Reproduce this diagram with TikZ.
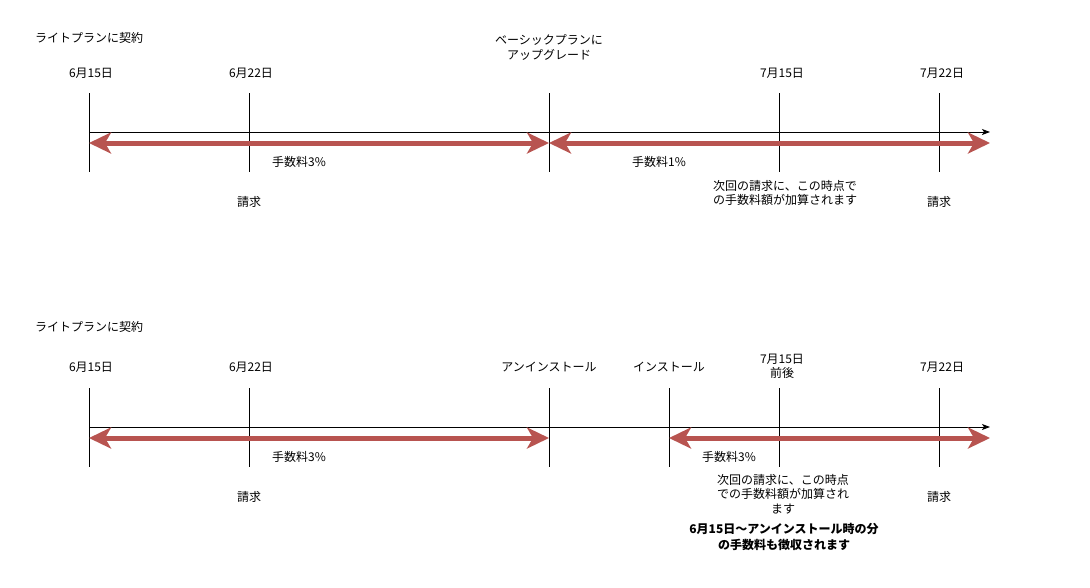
\documentclass[tikz,border=0pt]{standalone}
\usepackage{fontspec}
\setmainfont{Noto Sans CJK JP}
\usetikzlibrary{arrows.meta}
\definecolor{feered}{RGB}{184,84,80}
\begin{document}
\begin{tikzpicture}[x=1pt,y=-1pt,
  lbl/.style={font=\fontsize{12}{14.5}\selectfont, inner sep=0pt, align=center},
  boldlbl/.style={lbl, font=\fontsize{12}{16}\selectfont\bfseries},
  tick/.style={draw=black, line width=1pt},
  axis/.style={draw=black, line width=1pt, -{Stealth[length=8pt,width=6pt,inset=2pt]}},
  fee/.style={draw=feered, line width=5pt, {Stealth[length=22pt,width=21pt,inset=6pt]}-{Stealth[length=22pt,width=21pt,inset=6pt]}}]
\useasboundingbox (0,0) rectangle (1090,587);

% ---------- top timeline ----------
\node[lbl, anchor=west] (ttitle) at (35,38) {ライトプランに契約};
\node[lbl] (td1) at (91,73) {6月15日};
\node[lbl] (td2) at (251,73) {6月22日};
\node[lbl] (tup) at (549,47.5) {ベーシックプランに\\アップグレード};
\node[lbl] (td3) at (782,73) {7月15日};
\node[lbl] (td4) at (942,73) {7月22日};

\foreach \n/\x in {a/89,b/249,c/549,d/779,e/939}{
  \coordinate (T\n top) at (\x,93);
  \coordinate (T\n bot) at (\x,172);
  \draw[tick] (T\n top) -- (T\n bot);
}
\coordinate (Taxs) at (89,132);
\coordinate (Taxe) at (990,132);
\draw[axis] (Taxs) -- (Taxe);

\coordinate (Tr1) at (89,143);
\coordinate (Tr2) at (549,143);
\coordinate (Tr3) at (990,143);
\draw[fee] (Tr1) -- (Tr2);
\draw[fee] (Tr2) -- (Tr3);

\node[lbl] (tf1) at (299,162) {手数料3\%};
\node[lbl] (tf2) at (659,162) {手数料1\%};
\node[lbl] (tb1) at (249,202) {請求};
\node[lbl] (tnote) at (785,193) {次回の請求に、この時点で\\の手数料額が加算されます};
\node[lbl] (tb2) at (939,202) {請求};

% ---------- bottom timeline ----------
\node[lbl, anchor=west] (btitle) at (35,327) {ライトプランに契約};
\node[lbl] (bd1) at (91,367) {6月15日};
\node[lbl] (bd2) at (251,367) {6月22日};
\node[lbl] (bun) at (549,367) {アンインストール};
\node[lbl] (bin) at (669,367) {インストール};
\node[lbl] (bd3) at (782,366.5) {7月15日\\前後};
\node[lbl] (bd4) at (942,367) {7月22日};

\foreach \n/\x in {a/89,b/249,c/549,f/669,d/779,e/939}{
  \coordinate (B\n top) at (\x,388);
  \coordinate (B\n bot) at (\x,467);
  \draw[tick] (B\n top) -- (B\n bot);
}
\coordinate (Baxs) at (89,427);
\coordinate (Baxe) at (990,427);
\draw[axis] (Baxs) -- (Baxe);

\coordinate (Br1) at (89,438);
\coordinate (Br2) at (549,438);
\coordinate (Br3) at (669,438);
\coordinate (Br4) at (990,438);
\draw[fee] (Br1) -- (Br2);
\draw[fee] (Br3) -- (Br4);

\node[lbl] (bf1) at (299,457) {手数料3\%};
\node[lbl] (bf2) at (729,457) {手数料3\%};
\node[lbl] (bb1) at (249,497) {請求};
\node[lbl] (bnote) at (783,494) {次回の請求に、この時点\\での手数料額が加算され\\ます};
\node[lbl] (bb2) at (939,497) {請求};
\node[boldlbl] (bbold) at (784,537) {6月15日〜アンインストール時の分\\の手数料も徴収されます};
\end{tikzpicture}
\end{document}
